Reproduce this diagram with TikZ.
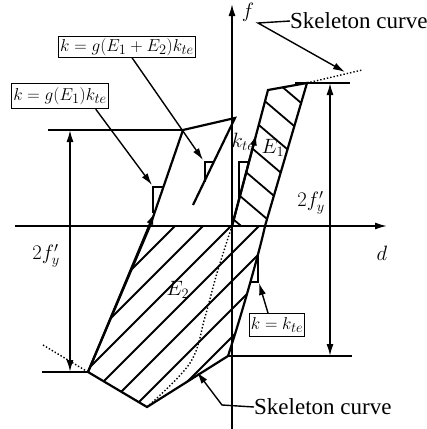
\documentclass[tikz,border=0pt]{standalone}
\usepackage{fontspec}
\setmainfont{Liberation Serif}
\usetikzlibrary{arrows.meta,calc}

\tikzset{
  loopline/.style={line width=2.2pt},
  axisline/.style={line width=1.5pt},
  leadline/.style={line width=1.4pt},
  hatchline/.style={line width=1.8pt},
  skel/.style={dotted, line width=1.4pt},
  arr/.style={-{Latex[length=12pt,width=7pt]}},
  dimline/.style={axisline, {Latex[length=12pt,width=7pt]}-{Latex[length=12pt,width=7pt]}},
  kbox/.style={draw, line width=1.1pt, inner xsep=1.5pt, inner ysep=1.5pt, font=\fontsize{19}{22}\selectfont},
  lbl/.style={inner sep=0pt, font=\fontsize{20}{23}\selectfont},
  skeltext/.style={inner sep=0pt, anchor=west, font=\fontsize{23}{26}\selectfont}
}

\begin{document}
\begin{tikzpicture}[x=1pt,y=-1pt]
\useasboundingbox (0,0) rectangle (427,429);

% corner points of the loops
\coordinate (O) at (232,226);
\coordinate (A1) at (150,226);
\coordinate (A2) at (183,130);
\coordinate (A3) at (235,118);
\coordinate (A4) at (193,205);
\coordinate (B2) at (268,90);
\coordinate (B3) at (307,83);
\coordinate (B4) at (265,226);
\coordinate (C1) at (88,372);
\coordinate (C2) at (147,407);
\coordinate (C3) at (228,356);

% hatching
\begin{scope}
\clip (A1) -- (C1) -- (C2) -- (C3) .. controls (240,320) and (260,250) .. (B4) -- cycle;
\foreach \c in {401,429,...,569}
  \draw[hatchline] ({\c-120},120) -- ({\c-420},420);
\end{scope}
\begin{scope}
\clip (O) -- (B2) -- (B3) -- (B4) -- cycle;
\foreach \c in {-153,-124,...,21}
  \draw[hatchline] (220,{\c+0.85*220}) -- (320,{\c+0.85*320});
\end{scope}

% axes
\coordinate (fbot) at (232,429);
\coordinate (ftop) at (232,4);
\coordinate (dleft) at (15,226);
\coordinate (dright) at (387,226);
\draw[axisline,arr] (fbot) -- (ftop);
\draw[axisline,arr] (dleft) -- (dright);
\node[lbl] (flbl) at (248,12) {$f$};
\node[lbl] (dlbl) at (382,253) {$d$};

% loops
\draw[loopline] (C1) -- (A1) -- (A2) -- (A3) -- (A4);
\draw[loopline,arr] (C1) -- ($(A1)!0.14!(A2)$);
\draw[loopline] (O) -- (B2) -- (B3) -- (B4);
\draw[loopline,arr] (O) -- ($(O)!0.68!(B2)$);
\draw[loopline] (C1) -- (C2) -- (C3) .. controls (240,320) and (260,250) .. (B4);

% skeleton curve
\draw[skel] (B3) -- (362,70);
\draw[skel] (43,345) -- (C1);
\draw[skel] plot[smooth, tension=0.6] coordinates {(232,226) (217,273) (205,317) (190,363) (147,407)};

% levels and 2f'y
\coordinate (lvA) at (48,130);
\coordinate (lvB) at (42,372);
\coordinate (lvC) at (295,83);
\coordinate (lvCe) at (350,83);
\coordinate (lvDe) at (352,356);
\draw[axisline] (lvA) -- (A2);
\draw[axisline] (lvB) -- (C1);
\draw[axisline] (lvC) -- (lvCe);
\draw[axisline] (C3) -- (lvDe);
\draw[dimline] (70,130) -- (70,372);
\draw[dimline] (330,83) -- (330,356);
\node[lbl] (fyl) at (46,256) {$2f_y'$};
\node[lbl] (fyr) at (311,203) {$2f_y'$};

% slope marks
\draw[leadline] (153,213) -- (153,187) -- (163,187);
\draw[leadline] (205,182) -- (205,162) -- (213,162);
\draw[leadline] (239,200) -- (239,162) -- (249,162);
\draw[leadline] (250,282) -- (258,282) -- (258,253);
\node[lbl] (kte) at (243,142) {$k_{te}$};
\node[lbl] (eone) at (273,148) {$E_1$};
\node[lbl] (etwo) at (178,290) {$E_2$};

% stiffness boxes
\node[kbox, inner ysep=4pt] (kone) at (60,96) {$k=g\big(E_1\big)k_{te}$};
\node[kbox] (ktwo) at (127,47) {$k=g\big(E_1+E_2\big)k_{te}$};
\node[kbox, inner ysep=4pt] (kthree) at (277,325) {$k=k_{te}$};
\coordinate (t1) at (152,185);
\coordinate (t2) at (203,160);
\coordinate (t3) at (259,283);
\draw[leadline,arr] ([xshift=-13pt]kone.south east) -- (t1);
\draw[leadline,arr] ([xshift=5pt]ktwo.south) -- (t2);
\draw[leadline,arr] ([xshift=-9pt]kthree.north) -- (t3);

% skeleton labels
\node[skeltext] (skelA) at (290,21) {Skeleton curve};
\node[skeltext] (skelB) at (254,407) {Skeleton curve};
\coordinate (kinkA) at (258,23);
\coordinate (kinkB) at (222,405);
\coordinate (s1) at (345,72);
\coordinate (s2) at (197,372);
\draw[leadline,arr] (skelA.west) -- (kinkA) -- (s1);
\draw[leadline,arr] (skelB.west) -- (kinkB) -- (s2);
\end{tikzpicture}
\end{document}
